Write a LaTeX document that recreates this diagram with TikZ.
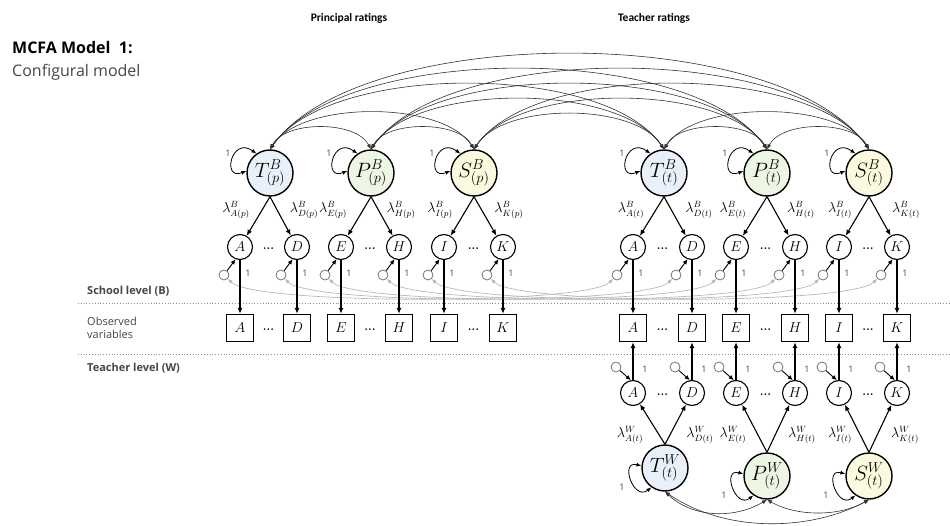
\documentclass[tikz,border=0pt]{standalone}
\usepackage{fontspec}
\newfontfamily\sansf{Open Sans}
\newfontfamily\hdfont{Carlito}
\usetikzlibrary{arrows.meta,calc}
\definecolor{cT}{RGB}{232,240,250}
\definecolor{cP}{RGB}{237,246,226}
\definecolor{cS}{RGB}{252,250,222}
\definecolor{txtgrey}{RGB}{70,70,70}
\newcommand\toparc[4]{\draw[cov] (#1.north) .. controls +(#3,-#4) and +(-#3,-#4) .. (#2.north);}
\begin{document}
\begin{tikzpicture}[x=1pt,y=-1pt,
  lat/.style={circle,draw,line width=1.4pt,minimum size=46pt,inner sep=0pt,font=\fontsize{22}{22}\selectfont},
  ind/.style={circle,draw,line width=1.1pt,minimum size=25pt,inner sep=0pt,font=\fontsize{15}{15}\selectfont},
  obs/.style={rectangle,draw,line width=1.3pt,minimum size=27pt,inner sep=0pt,font=\fontsize{15}{15}\selectfont},
  res/.style={circle,draw=black!55,line width=0.8pt,minimum size=10pt,inner sep=0pt},
  load/.style={line width=1.1pt,-{Latex[length=6pt,width=5pt]}},
  vert/.style={line width=1.5pt,-{Latex[length=6pt,width=5pt]}},
  rarr/.style={line width=0.9pt,-{Latex[length=5pt,width=4.5pt]}},
  cov/.style={line width=0.6pt,black!80,{Latex[length=5pt,width=4pt]}-{Latex[length=5pt,width=4pt]}},
  lcov/.style={line width=0.8pt,{Latex[length=5pt,width=4pt]}-{Latex[length=5pt,width=4pt]}},
  gcov/.style={line width=0.7pt,black!28,{Latex[length=5pt,width=4pt]}-{Latex[length=5pt,width=4pt]}},
  lam/.style={font=\fontsize{13.5}{13.5}\selectfont,inner sep=0pt},
  one/.style={font=\sansf\fontsize{9}{9}\selectfont,inner sep=0pt,text=txtgrey},
  dts/.style={font=\bfseries\fontsize{12}{12}\selectfont,inner sep=0pt},
  side/.style={font=\sansf\fontsize{11}{13}\selectfont,anchor=west,inner sep=0pt,text=txtgrey,align=left},
  hd/.style={font=\hdfont\bfseries\fontsize{11.5}{11.5}\selectfont,inner sep=0pt}
]
\useasboundingbox (0,0) rectangle (950,526);

% titles
\node[anchor=west,inner sep=0pt,font=\sansf\bfseries\fontsize{16}{16}\selectfont] (ttl) at (12,48) {MCFA Model\ \ 1:};
\node[anchor=west,inner sep=0pt,font=\sansf\fontsize{16}{16}\selectfont,text=txtgrey] (sub) at (12,72) {Configural model};
\node[hd] (hp) at (349,18) {Principal ratings};
\node[hd] (ht) at (654,18) {Teacher ratings};

% level labels and separators
\node[side,font=\sansf\bfseries\fontsize{11}{11}\selectfont] (lb) at (87,291) {School level (B)};
\node[side] (lo) at (87,328) {Observed\\variables};
\node[side,font=\sansf\bfseries\fontsize{11}{11}\selectfont] (lw) at (87,368) {Teacher level (W)};
\coordinate (d1a) at (78,303); \coordinate (d1b) at (950,303);
\coordinate (d2a) at (78,354); \coordinate (d2b) at (950,354);
\draw[black!45,line width=0.8pt,dotted] (d1a) -- (d1b);
\draw[black!45,line width=0.8pt,dotted] (d2a) -- (d2b);

% latent factors, school level
\node[lat,fill=cT] (pT) at (270,173) {$T^{B}_{(p)}$};
\node[lat,fill=cP] (pP) at (371,173) {$P^{B}_{(p)}$};
\node[lat,fill=cS] (pS) at (474,173) {$S^{B}_{(p)}$};
\node[lat,fill=cT] (tT) at (664,173) {$T^{B}_{(t)}$};
\node[lat,fill=cP] (tP) at (767,173) {$P^{B}_{(t)}$};
\node[lat,fill=cS] (tS) at (869,173) {$S^{B}_{(t)}$};
% latent factors, teacher level
\node[lat,fill=cT] (wT) at (665,468) {$T^{W}_{(t)}$};
\node[lat,fill=cP] (wP) at (767,476) {$P^{W}_{(t)}$};
\node[lat,fill=cS] (wS) at (869,476) {$S^{W}_{(t)}$};

% principal indicators
\foreach \n/\x in {A/240,D/297,E/341,H/399,I/444,K/503}{
  \node[ind] (p\n) at (\x,247) {$\n$};
  \node[obs] (bp\n) at (\x,328) {$\n$};
  \node[res] (rp\n) at (\x-16,275) {};
  \node[one] at (\x+8,273) {1};
}
% teacher indicators
\foreach \n/\x in {A/633,D/692,E/736,H/795,I/839,K/897}{
  \node[ind] (t\n) at (\x,247) {$\n$};
  \node[obs] (bt\n) at (\x,328) {$\n$};
  \node[res] (rt\n) at (\x-16,275) {};
  \node[one] at (\x+8,273) {1};
  \node[ind] (w\n) at (\x,393) {$\n$};
  \node[res] (rw\n) at (\x-17,367) {};
  \node[one] at (\x+12,369) {1};
}
% ellipses
\foreach \x in {268.5,370,473.5}{
  \node[dts] at (\x,249) {...};
  \node[dts] at (\x,330) {...};
}
\foreach \x in {662.5,765.5,868}{
  \node[dts] at (\x,249) {...};
  \node[dts] at (\x,330) {...};
  \node[dts] at (\x,395) {...};
}

% grey residual covariances across raters
\foreach \n in {A,D,E,H,I,K}{
  \draw[gcov] (rp\n) .. controls +(30,30) and +(-30,30) .. (rt\n);
}

% residual arrows and vertical paths
\foreach \n in {A,D,E,H,I,K}{
  \draw[vert] (p\n) -- (bp\n);
  \draw[rarr] (rp\n) -- (p\n.250);
  \draw[vert] (t\n) -- (bt\n);
  \draw[rarr] (rt\n) -- (t\n.250);
  \draw[vert] (w\n) -- (bt\n);
  \draw[rarr] (rw\n) -- (w\n.100);
}

% loadings
\foreach \f/\a/\b in {pT/pA/pD,pP/pE/pH,pS/pI/pK,tT/tA/tD,tP/tE/tH,tS/tI/tK}{
  \draw[load] (\f.south) -- (\a);
  \draw[load] (\f.south) -- (\b);
}
\foreach \f/\a/\b in {wT/wA/wD,wP/wE/wH,wS/wI/wK}{
  \draw[load] (\f.north) -- (\a);
  \draw[load] (\f.north) -- (\b);
}

% loading labels
\foreach \n/\x in {A/236,D/304,E/333,H/401,I/440,K/509}{
  \node[lam] at (\x,210) {$\lambda^{B}_{\n(p)}$};
}
\foreach \n/\x in {A/631,D/699,E/733,H/801,I/840,K/906}{
  \node[lam] at (\x,210) {$\lambda^{B}_{\n(t)}$};
}
\foreach \n/\x in {A/630,D/700,E/733,H/802,I/840,K/905}{
  \node[lam] at (\x,435) {$\lambda^{W}_{\n(t)}$};
}

% variance loops
\foreach \nd in {pT,pP,pS,tT,tP,tS}{
  \draw[lcov] (\nd.125) .. controls +(-25,-18) and +(-25,10) .. (\nd.175);
  \node[one] at ($(\nd)+(-42,-20)$) {1};
}
\foreach \nd in {wT,wP,wS}{
  \draw[lcov] (\nd.175) .. controls +(-22,-6) and +(-18,14) .. (\nd.235);
  \node[one] at ($(\nd)+(-43,19)$) {1};
}

% school-level factor covariances
\toparc{pT}{pP}{15}{29}
\toparc{pT}{pS}{31}{49}
\toparc{pT}{tT}{59}{87}
\toparc{pT}{tP}{75}{107}
\toparc{pT}{tS}{90}{127}
\toparc{pP}{pS}{15}{29}
\toparc{pP}{tT}{44}{67}
\toparc{pP}{tP}{59}{87}
\toparc{pP}{tS}{75}{107}
\toparc{pS}{tT}{29}{47}
\toparc{pS}{tP}{44}{67}
\toparc{pS}{tS}{59}{87}
\toparc{tT}{tP}{15}{29}
\toparc{tT}{tS}{31}{49}
\toparc{tP}{tS}{15}{29}

% teacher-level factor covariances
\draw[cov] (wT.south) .. controls +(30,28) and +(-30,18) .. (wP.south);
\draw[cov] (wP.south) .. controls +(30,17) and +(-30,17) .. (wS.south);
\draw[cov] (wT.south) .. controls +(60,41) and +(-60,32) .. (wS.south);
\end{tikzpicture}
\end{document}
